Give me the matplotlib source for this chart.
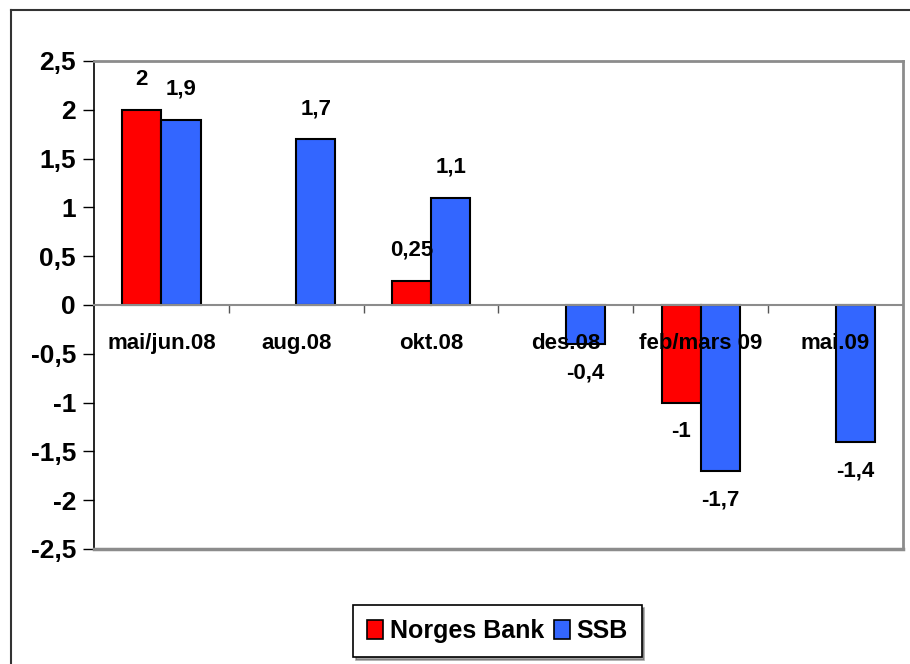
import numpy as np
import matplotlib
matplotlib.use("Agg")
import matplotlib.pyplot as plt
from matplotlib.patches import Patch
from matplotlib.lines import Line2D

plt.rcParams['font.family'] = ['Liberation Sans', 'DejaVu Sans']
plt.rcParams['font.weight'] = 'bold'

categories = ["mai/jun.08", "aug.08", "okt.08", "des.08", "feb/mars 09", "mai.09"]
norges_bank = [2.0, np.nan, 0.25, np.nan, -1.0, np.nan]
ssb = [1.9, 1.7, 1.1, -0.4, -1.7, -1.4]
series_names = ["Norges Bank", "SSB"]
yticks = [2.5, 2.0, 1.5, 1.0, 0.5, 0.0, -0.5, -1.0, -1.5, -2.0, -2.5]

RED = "#FF0000"
BLUE = "#3366FF"
GRAY = "#8C8C8C"


def fmt(v):
    return f"{v:g}".replace(".", ",")


fig = plt.figure(figsize=(9.1, 6.64), dpi=100)
ax = fig.add_axes([94 / 910, 115 / 664, (903 - 94) / 910, (549 - 61) / 664])

x = np.arange(len(categories))
w = 0.29
for vals, off, col in ((norges_bank, -w / 2, RED), (ssb, w / 2, BLUE)):
    ax.bar(x + off, vals, width=w, color=col, edgecolor="black", linewidth=1.5, zorder=2)
    for xi, v in zip(x, vals):
        if np.isnan(v):
            continue
        dy = 22 if v >= 0 else -21
        ax.annotate(fmt(v), (xi + off, v), xytext=(0, dy), textcoords="offset points",
                    ha="center", va="center", fontsize=16, fontweight="bold", zorder=5)

# category labels just below the zero line
for xi, c in zip(x, categories):
    ax.annotate(c, (xi, 0), xytext=(0, -28), textcoords="offset points",
                ha="center", va="center", fontsize=16, fontweight="bold", zorder=5)

ax.set_xlim(-0.5, len(categories) - 0.5)
ax.set_ylim(-2.5, 2.5)
ax.set_yticks(yticks)
ax.set_yticklabels([fmt(t) for t in yticks], fontsize=19, fontweight="bold")
ax.tick_params(axis="y", direction="out", length=8, width=1, pad=5, color="black")

# horizontal axis at zero with separators between categories
ax.spines["bottom"].set_position(("data", 0))
ax.spines["bottom"].set_color(GRAY)
ax.spines["bottom"].set_linewidth(1.5)
ax.spines["bottom"].set_zorder(3)
ax.set_xticks(np.arange(len(categories) - 1) + 0.5)
ax.set_xticklabels([])
ax.tick_params(axis="x", direction="out", length=6, width=1, color="#555555")

ax.spines["left"].set_color("black")
ax.spines["left"].set_linewidth(1.2)
for s in ("top", "right"):
    ax.spines[s].set_color(GRAY)
    ax.spines[s].set_linewidth(2)
ax.axhline(-2.5, color=GRAY, linewidth=2.5, clip_on=False, zorder=3)

# legend
handles = [Patch(facecolor=RED, edgecolor="black", linewidth=1.2),
           Patch(facecolor=BLUE, edgecolor="black", linewidth=1.2)]
leg = fig.legend(handles, series_names, loc="center", bbox_to_anchor=(497.5 / 910, 33 / 664),
                 ncol=2, frameon=True, fancybox=False, shadow=True,
                 prop={"weight": "bold", "size": 18},
                 handlelength=0.65, handleheight=0.8, handletextpad=0.25,
                 columnspacing=0.4, borderpad=0.55, borderaxespad=0)
leg.get_frame().set_edgecolor("black")
leg.get_frame().set_linewidth(1.2)

# outer chart frame
fig.add_artist(Line2D([11 / 910, 11 / 910], [0, 654 / 664], color="#333333", linewidth=1.5))
fig.add_artist(Line2D([11 / 910, 1], [654 / 664, 654 / 664], color="#333333", linewidth=1.5))

fig.savefig("out.png", dpi=100)
